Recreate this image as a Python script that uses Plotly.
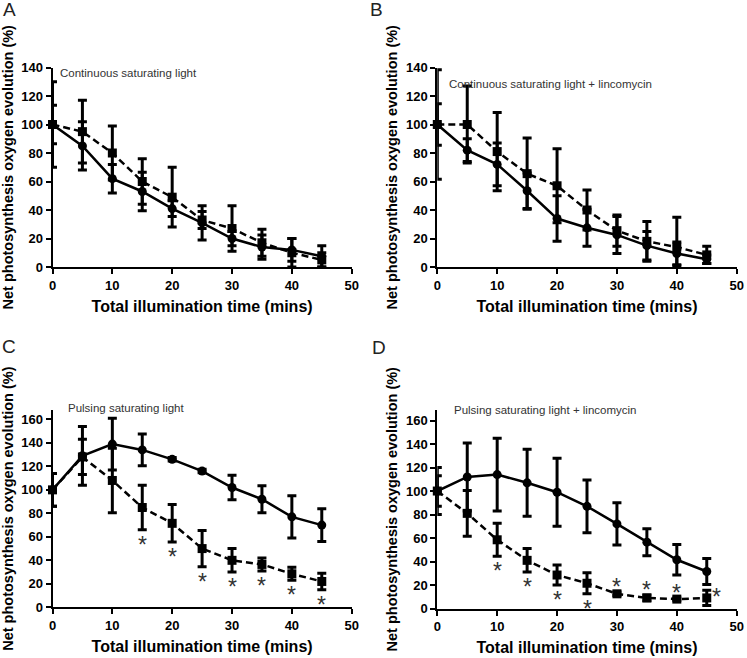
import plotly.graph_objects as go

W, H = 747, 658

time_min = [0, 5, 10, 15, 20, 25, 30, 35, 40, 45]
x_ticks = [0, 10, 20, 30, 40, 50]

# Panel A: continuous saturating light
a_solid = [100, 85, 62, 53, 41, 31, 20, 14, 12, 7.5]
a_solid_err = [30, 17, 10, 13.5, 5.5, 12, 5, 8.5, 8, 7.5]
a_dash = [100, 95, 80, 60, 49, 33, 27, 17, 10, 5]
a_dash_err = [13.5, 22, 19, 16, 21, 6, 16, 9.5, 10, 5]

# Panel B: continuous saturating light + lincomycin
b_solid = [100, 82, 72, 53.5, 34, 27.5, 22.5, 15, 9.5, 5.5]
b_solid_err = [38.5, 8, 15, 12.5, 16, 13, 13, 10, 8, 3]
b_dash = [100, 100, 81, 65.5, 57, 40, 25.5, 18, 14, 8.5]
b_dash_err_plus = [14.5, 27, 27.5, 25, 26, 14, 11, 14, 21, 6]
b_dash_err_minus = [14.5, 27, 27.5, 25, 26, 14, 11, 14, 13, 6]

# Panel C: pulsing saturating light
c_solid = [100, 129, 139, 134, 126, 116, 102, 92, 77, 70]
c_solid_err = [14, 25, 22, 13.5, 1.5, 1.5, 10.5, 11.5, 18, 14]
c_dash = [100, 128, 108, 85, 71.5, 50, 40, 36.5, 28.5, 22]
c_dash_err = [14, 15, 27.5, 19, 16, 15.5, 10, 5.5, 5.5, 7]
c_sig = ["", "", "", "below", "below", "below", "below", "below", "below", "below"]

# Panel D: pulsing saturating light + lincomycin
d_solid = [100, 112, 114, 107, 99, 87, 72, 56.5, 41.5, 31.5]
d_solid_err = [20, 29, 31, 28.5, 29, 22.5, 18, 11.5, 13, 11]
d_dash = [100, 81, 58.5, 41, 28.5, 21.5, 12.5, 9, 8, 9]
d_dash_err = [13, 19.5, 14, 10, 8.5, 9, 1.5, 2.5, 1, 6.5]
d_sig = ["", "", "below", "below", "below", "below", "above", "above", "above", "right"]

y_title = "Net photosynthesis oxygen evolution (%)"
x_title = "Total illumination time (mins)"

panels = [
    dict(letter="A", label="Continuous saturating light",
         solid=a_solid, solid_err=a_solid_err, dash=a_dash,
         dash_err=a_dash_err, dash_err_minus=a_dash_err, sig=None,
         yrange=140, yticks=[0, 20, 40, 60, 80, 100, 120, 140],
         px_x=(52.5, 351.7), px_y=(267.0, 67.5),
         lab_px=(57.7, 73.3), letter_px=(9, 10)),
    dict(letter="B", label="Continuous saturating light + lincomycin",
         solid=b_solid, solid_err=b_solid_err, dash=b_dash,
         dash_err=b_dash_err_plus, dash_err_minus=b_dash_err_minus, sig=None,
         yrange=140, yticks=[0, 20, 40, 60, 80, 100, 120, 140],
         px_x=(437.3, 736.7), px_y=(267.0, 67.5),
         lab_px=(447.3, 84.0), letter_px=(377, 10)),
    dict(letter="C", label="Pulsing saturating light",
         solid=c_solid, solid_err=c_solid_err, dash=c_dash,
         dash_err=c_dash_err, dash_err_minus=c_dash_err, sig=c_sig,
         yrange=168, yticks=[0, 20, 40, 60, 80, 100, 120, 140, 160],
         px_x=(52.5, 351.7), px_y=(607.3, 410.0),
         lab_px=(65.7, 408.3), letter_px=(9, 346)),
    dict(letter="D", label="Pulsing saturating light + lincomycin",
         solid=d_solid, solid_err=d_solid_err, dash=d_dash,
         dash_err=d_dash_err, dash_err_minus=d_dash_err, sig=d_sig,
         yrange=169, yticks=[0, 20, 40, 60, 80, 100, 120, 140, 160],
         px_x=(437.3, 736.7), px_y=(608.5, 410.0),
         lab_px=(451.7, 410.0), letter_px=(379, 347)),
]

FONT = "Arial, Liberation Sans, Helvetica, sans-serif"
fig = go.Figure()
annotations = []
layout_axes = {}

for i, p in enumerate(panels):
    n = "" if i == 0 else str(i + 1)
    xref, yref = "x" + n, "y" + n
    err_style = dict(type="data", visible=True, color="black", thickness=3, width=4.5)
    fig.add_trace(go.Scatter(
        x=time_min, y=p["solid"], mode="lines+markers", xaxis=xref, yaxis=yref,
        line=dict(color="black", width=2.5),
        marker=dict(symbol="circle", size=9, color="black"),
        error_y=dict(array=p["solid_err"], **err_style),
        cliponaxis=False, showlegend=False, name="control"))
    fig.add_trace(go.Scatter(
        x=time_min, y=p["dash"], mode="lines+markers", xaxis=xref, yaxis=yref,
        line=dict(color="black", width=2.5, dash="7px,4px"),
        marker=dict(symbol="square", size=9, color="black"),
        error_y=dict(array=p["dash_err"], arrayminus=p["dash_err_minus"],
                     symmetric=False, **err_style),
        cliponaxis=False, showlegend=False, name="treated"))

    x0, x1 = p["px_x"]
    yb, yt = p["px_y"]
    layout_axes["xaxis" + n] = dict(
        domain=[x0 / W, x1 / W], anchor=yref, range=[0, 50],
        tickmode="array", tickvals=x_ticks, ticks="outside", ticklen=5,
        tickwidth=2, tickcolor="black", showline=True, linewidth=2,
        linecolor="black", showgrid=False, zeroline=False, automargin=False,
        tickfont=dict(family=FONT, size=13, color="black", weight="bold"),
        title=dict(text=x_title, standoff=9,
                   font=dict(family=FONT, size=16, color="black", weight="bold")))
    layout_axes["yaxis" + n] = dict(
        domain=[1 - yb / H, 1 - yt / H], anchor=xref, range=[0, p["yrange"]],
        tickmode="array", tickvals=p["yticks"], ticks="outside", ticklen=5,
        tickwidth=2, tickcolor="black", showline=True, linewidth=2,
        linecolor="black", showgrid=False, zeroline=False, automargin=False,
        tickfont=dict(family=FONT, size=13, color="black", weight="bold"),
        title=dict(text=y_title, standoff=5,
                   font=dict(family=FONT, size=14.5, color="black", weight="bold")))

    # condition label inside plot
    annotations.append(dict(
        x=p["lab_px"][0] / W, y=1 - p["lab_px"][1] / H, xref="paper", yref="paper",
        text=p["label"], showarrow=False, xanchor="left", yanchor="middle",
        font=dict(family=FONT, size=11.5, color="#333333")))
    # panel letter
    annotations.append(dict(
        x=p["letter_px"][0] / W, y=1 - p["letter_px"][1] / H, xref="paper", yref="paper",
        text=p["letter"], showarrow=False, xanchor="center", yanchor="middle",
        font=dict(family=FONT, size=19, color="#222222")))
    # significance asterisks
    if p["sig"]:
        for t, v, e, s in zip(time_min, p["dash"], p["dash_err"], p["sig"]):
            if not s:
                continue
            if s == "below":
                ay, xs, ys = v - e, 0, -15
            elif s == "above":
                ay, xs, ys = v + e, 0, 5
            else:
                ay, xs, ys = v, 10, 1
            annotations.append(dict(
                x=t, y=ay, xref=xref, yref=yref, text="*", showarrow=False,
                xshift=xs, yshift=ys, xanchor="center", yanchor="middle",
                font=dict(family=FONT, size=23, color="#333333")))

fig.update_layout(
    width=W, height=H, autosize=False, template="none",
    margin=dict(l=0, r=0, t=0, b=0),
    paper_bgcolor="white", plot_bgcolor="white",
    annotations=annotations, showlegend=False,
    **layout_axes)

fig.write_html(
    "out.html",
    config={"displayModeBar": False},
    post_script="document.body.style.margin='0';document.body.style.padding='0';",
)
